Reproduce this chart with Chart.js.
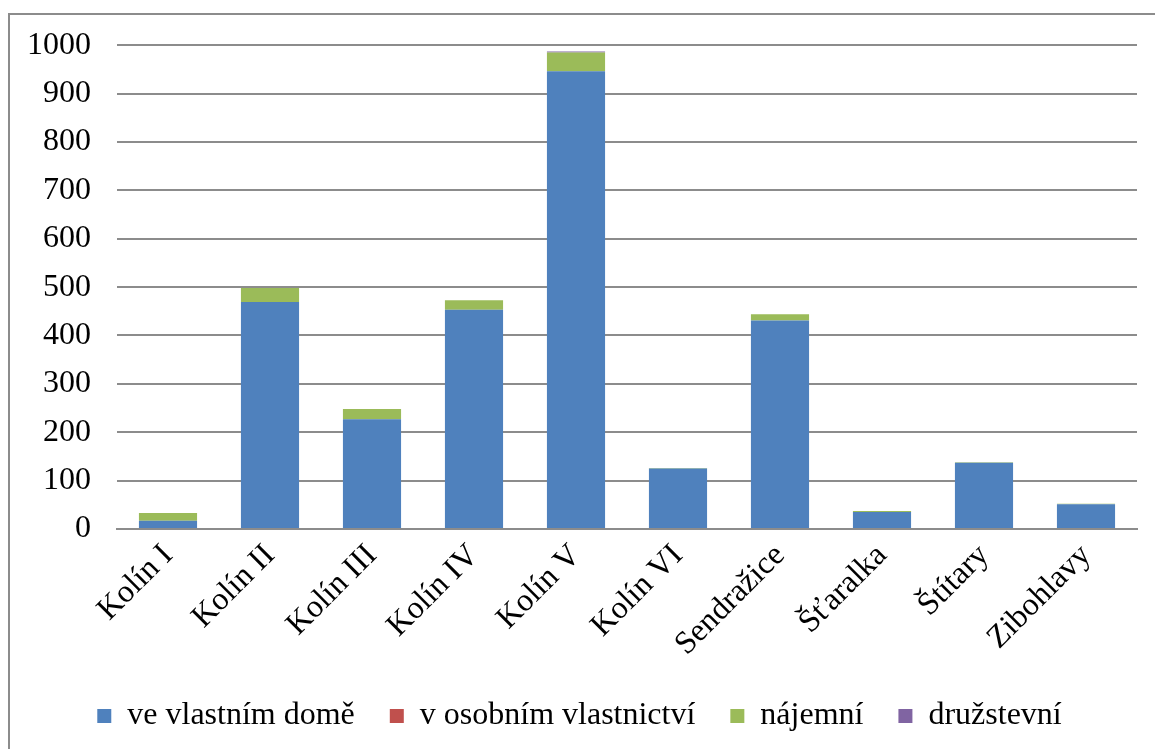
<!DOCTYPE html>
<html>
<head>
<meta charset="utf-8">
<script src="https://cdn.jsdelivr.net/npm/chart.js@4"></script>
<style>
  html, body { margin: 0; padding: 0; background: #fff; overflow: hidden; }
  #frame {
    position: absolute; left: 8px; top: 13px; width: 1300px; height: 900px;
    border-left: 2px solid #8c8c8c; border-top: 2px solid #8c8c8c;
  }
  #wrap { position: absolute; left: 0; top: 0; width: 1155px; height: 749px; }
</style>
</head>
<body>
<div id="frame"></div>
<div id="wrap"><canvas id="chart"></canvas></div>
<script>
const categories = ["Kolín I", "Kolín II", "Kolín III", "Kolín IV", "Kolín V",
  "Kolín VI", "Sendražice", "Šťaralka", "Štítary", "Zibohlavy"];
const seriesNames = ["ve vlastním domě", "v osobním vlastnictví", "nájemní", "družstevní"];
const vlastniDum = [17, 469, 227, 453, 946, 125, 431, 35, 137, 51];
const osobni = [0, 0, 0, 0, 0, 0, 0, 0, 0, 0];
const najemni = [16, 29, 21, 20, 39, 1, 13, 2, 1, 1];
const druzstevni = [0, 0, 0, 0, 2, 0, 0, 0, 0, 0];
const yTicks = [0, 100, 200, 300, 400, 500, 600, 700, 800, 900, 1000];

const colors = ["#4f81bd", "#c0504d", "#9bbb59", "#8064a2"];
const values = [vlastniDum, osobni, najemni, druzstevni];
const font = { family: "'Liberation Serif', 'Times New Roman', serif", size: 32 };

document.addEventListener("DOMContentLoaded", function () {
  const datasets = seriesNames.map((name, i) => ({
    label: name,
    data: values[i],
    backgroundColor: colors[i],
    borderWidth: 0,
    barPercentage: 0.57,
    categoryPercentage: 1.0,
  }));

  const ctx = document.getElementById("chart").getContext("2d");
  new Chart(ctx, {
    type: "bar",
    data: { labels: categories, datasets: datasets },
    options: {
      responsive: true,
      maintainAspectRatio: false,
      animation: false,
      layout: { padding: { left: 22, right: 18, top: 29, bottom: 7 } },
      plugins: {
        tooltip: { enabled: false },
        legend: {
          position: "bottom",
          labels: {
            color: "#000",
            font: font,
            boxWidth: 14,
            boxHeight: 14,
            padding: 35,
          },
        },
      },
      scales: {
        x: {
          stacked: true,
          grid: { display: false, drawTicks: false },
          border: { color: "#8c8c8c", width: 2 },
          ticks: {
            color: "#000",
            font: font,
            maxRotation: 45,
            minRotation: 45,
            padding: 8,
          },
          afterFit: function (axis) { axis.height = 136; },
        },
        y: {
          stacked: true,
          min: 0,
          max: 1000,
          afterBuildTicks: function (axis) {
            axis.ticks = yTicks.map(v => ({ value: v }));
          },
          grid: { color: "#8c8c8c", lineWidth: 2, drawTicks: false },
          border: { display: false },
          ticks: {
            color: "#000",
            font: font,
            padding: 26,
            callback: function (v) { return String(v); },
          },
          afterFit: function (axis) { axis.width = 95; },
        },
      },
    },
  });
});
</script>
</body>
</html>
